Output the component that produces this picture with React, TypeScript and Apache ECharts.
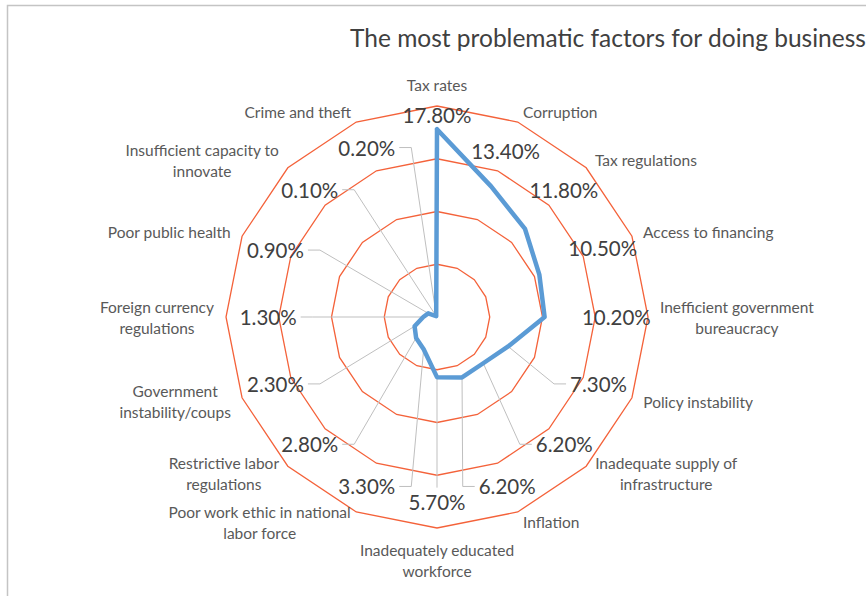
import React, { useEffect, useRef } from 'react';
import * as echarts from 'echarts';

const categories: string[] = [
  'Tax rates',
  'Corruption',
  'Tax regulations',
  'Access to financing',
  'Inefficient government\nbureaucracy',
  'Policy instability',
  'Inadequate supply of\ninfrastructure',
  'Inflation',
  'Inadequately educated\nworkforce',
  'Poor work ethic in national\nlabor force',
  'Restrictive labor\nregulations',
  'Government\ninstability/coups',
  'Foreign currency\nregulations',
  'Poor public health',
  'Insufficient capacity to\ninnovate',
  'Crime and theft',
];

const values: number[] = [17.8, 13.4, 11.8, 10.5, 10.2, 7.3, 6.2, 6.2, 5.7, 3.3, 2.8, 2.3, 1.3, 0.9, 0.1, 0.2];

const axisMax = 20;
const ringCount = 4;
const titleText = 'The most problematic factors for doing business';

const FONT = 'Lato, "Open Sans", sans-serif';
const NAME_SIZE = 15.5;
const VALUE_SIZE = 20.5;

let ctx: CanvasRenderingContext2D | null = null;
function measure(text: string, size: number): number {
  if (!ctx) ctx = document.createElement('canvas').getContext('2d');
  if (!ctx) return text.length * size * 0.5;
  ctx.font = `${size}px Lato`;
  return ctx.measureText(text).width;
}

export default function App() {
  const ref = useRef<HTMLDivElement>(null);
  useEffect(() => {
    if (!ref.current) return;
    const chart = echarts.init(ref.current, null, { renderer: 'svg' });
    const n = categories.length;
    const order = categories.map((_, k) => (n - k) % n);
    const rich: Record<string, any> = {};
    categories.forEach((name, i) => {
      const w = Math.max(...name.split('\n').map((s) => measure(s, NAME_SIZE))) + 2;
      rich['n' + i] = {
        width: w,
        align: 'center',
        fontSize: NAME_SIZE,
        fontFamily: FONT,
        color: '#595959',
        lineHeight: 21,
      };
    });

    const option: any = {
      animation: false,
      graphic: [
        {
          type: 'rect',
          z: -1,
          shape: { x: 7.5, y: 5.5, width: 900, height: 700 },
          style: { fill: 'none', stroke: '#c4c4c4', lineWidth: 1.5 },
        },
        {
          type: 'text',
          x: 350,
          y: 37,
          style: {
            text: titleText,
            fontSize: 24.5,
            fontFamily: FONT,
            fill: '#404040',
            verticalAlign: 'middle',
          },
        },
      ],
      radar: {
        center: [437, 317],
        radius: 211,
        startAngle: 90,
        splitNumber: ringCount,
        shape: 'polygon',
        nameGap: 11,
        indicator: order.map((i) => ({ name: categories[i], min: 0, max: axisMax })),
        axisName: {
          formatter: (name: string) => {
            const i = categories.indexOf(name);
            return name
              .split('\n')
              .map((s) => `{n${i}|${s}}`)
              .join('\n');
          },
          rich,
          color: '#595959',
          fontSize: NAME_SIZE,
          fontFamily: FONT,
        },
        splitLine: { lineStyle: { color: '#f4623a', width: 1.3 } },
        splitArea: { show: false },
        axisLine: { show: false },
        axisTick: { show: false },
        axisLabel: { show: false },
      },
      polar: { center: [437, 317], radius: 211 },
      angleAxis: {
        type: 'value',
        min: 0,
        max: n,
        startAngle: 90,
        clockwise: true,
        show: false,
        splitLine: { show: false },
        axisLine: { show: false },
        axisLabel: { show: false },
        axisTick: { show: false },
      },
      radiusAxis: {
        type: 'value',
        min: 0,
        max: axisMax,
        show: false,
        splitLine: { show: false },
        axisLine: { show: false },
        axisLabel: { show: false },
        axisTick: { show: false },
      },
      series: [
        {
          type: 'custom',
          coordinateSystem: 'polar',
          z: 1,
          silent: true,
          data: values.map((v, i) => [v, i]),
          renderItem: (params: any, api: any) => {
            const v = api.value(0) as number;
            const i = api.value(1) as number;
            const p = api.coord([v, i]);
            const theta = (i * 2 * Math.PI) / n;
            const labelR = v < 10 ? 16 + 1.5 * Math.abs(Math.cos(theta)) : Math.max(v + 1.3, 17);
            const L = api.coord([labelR, i]);
            const text = v.toFixed(2) + '%';
            const w = measure(text, VALUE_SIZE) / 2;
            const h = 11;
            const children: any[] = [
              {
                type: 'text',
                x: L[0],
                y: L[1],
                z2: 10,
                style: {
                  text,
                  fill: '#404040',
                  fontSize: VALUE_SIZE,
                  fontFamily: FONT,
                  align: 'center',
                  verticalAlign: 'middle',
                },
              },
            ];
            if (v < 10) {
              let pts: number[][];
              if (Math.abs(L[0] - p[0]) < w + 6) {
                const sy = L[1] + (p[1] < L[1] ? -h - 3 : h + 3);
                pts = [[L[0], sy], [p[0], p[1]]];
              } else {
                const dir = p[0] > L[0] ? 1 : -1;
                const sx = L[0] + dir * (w + 4);
                pts = [[sx, L[1]], [sx + dir * 12, L[1]], [p[0], p[1]]];
              }
              children.push({
                type: 'polyline',
                shape: { points: pts },
                style: { stroke: '#bfbfbf', lineWidth: 1, fill: null },
              });
            }
            return { type: 'group', children };
          },
        },
        {
          type: 'radar',
          z: 2,
          symbol: 'none',
          silent: true,
          data: [{ value: order.map((i) => values[i]) }],
          lineStyle: { color: '#5b9bd5', width: 4.5, join: 'round', cap: 'round' },
        },
      ],
    };
    chart.setOption(option);
    return () => chart.dispose();
  }, []);
  return (
    <div
      ref={ref}
      style={{ position: 'fixed', left: 0, top: 0, width: 866, height: 596, background: '#fff' }}
    />
  );
}
